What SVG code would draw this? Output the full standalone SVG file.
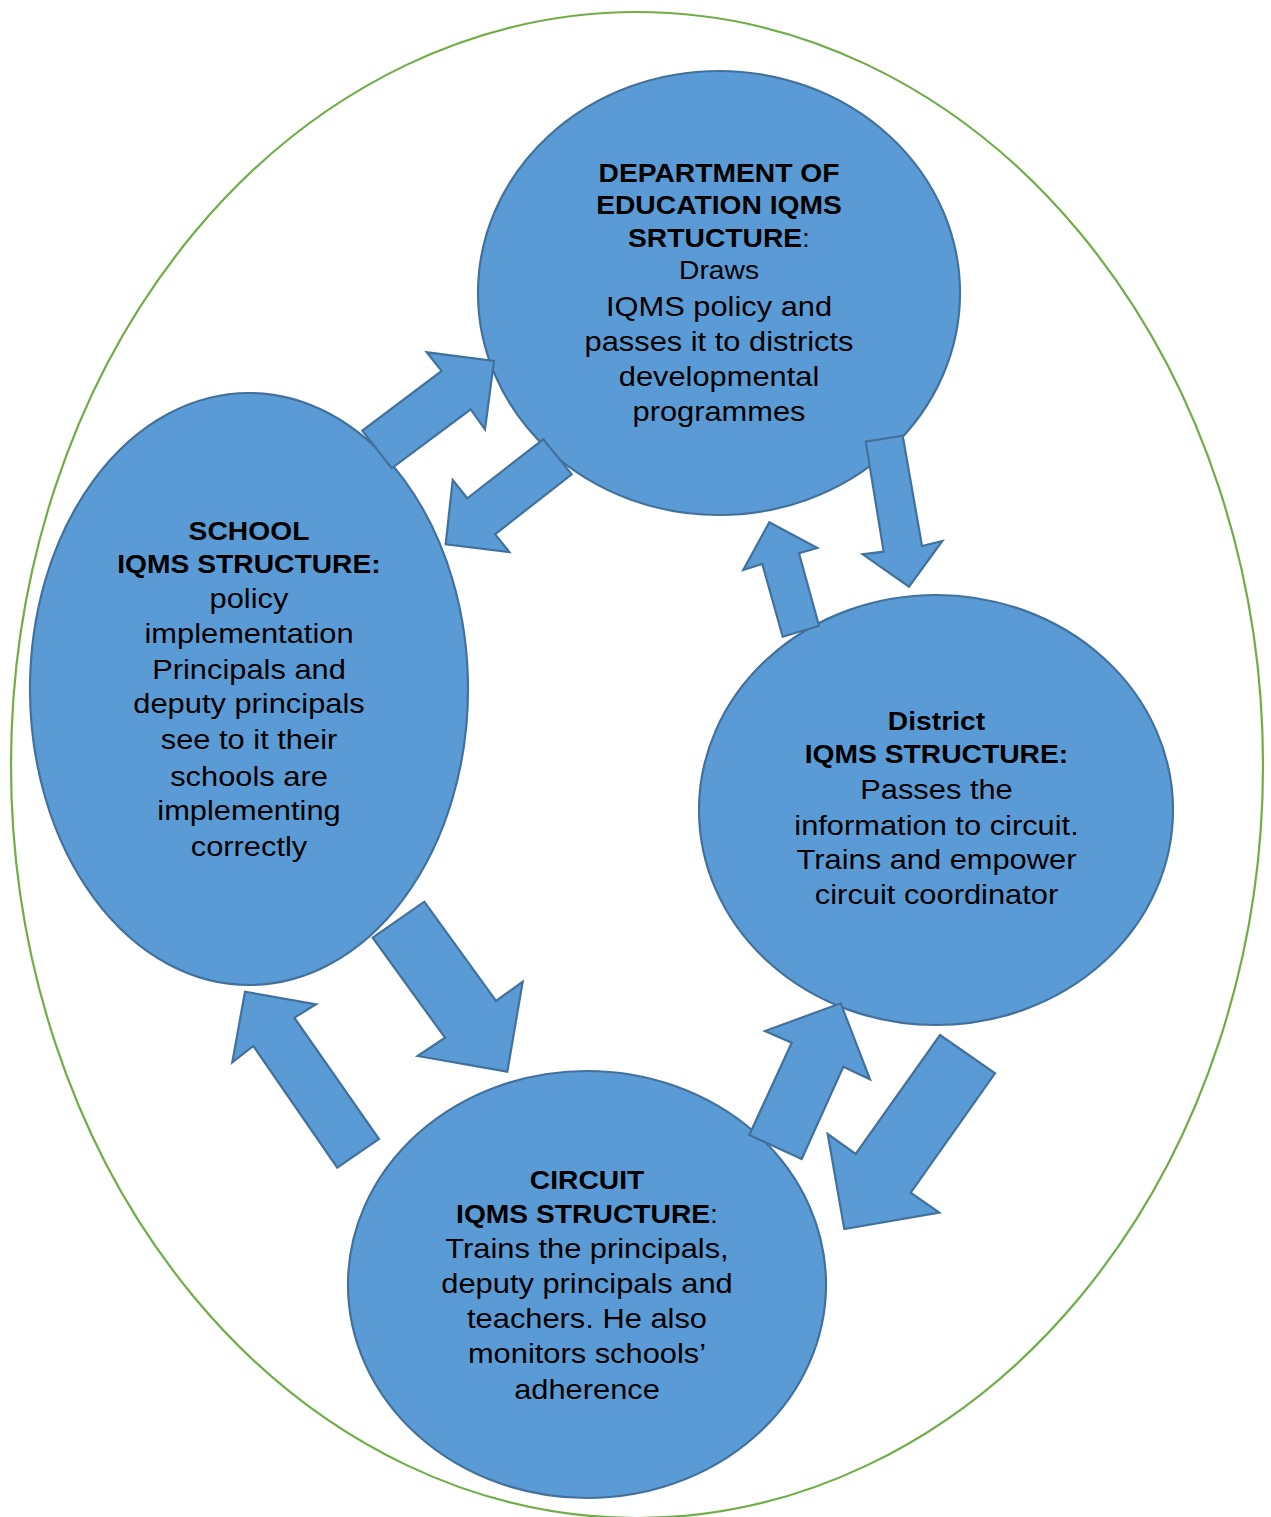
<svg xmlns="http://www.w3.org/2000/svg" width="1271" height="1517" viewBox="0 0 1271 1517">
<style>
.bg{fill:#ffffff}
.outer{fill:none;stroke:#70AD47;stroke-width:2.2}
.node{fill:#5B9BD5;stroke:#41719C;stroke-width:2.2}
.arrow{fill:#5B9BD5;stroke:#41719C;stroke-width:2.2;stroke-linejoin:miter}
text{font-family:"Liberation Sans",Arial,sans-serif;fill:#000000;text-anchor:middle}
.b{font-weight:bold;font-size:25px}
.r{font-size:27.3px}
.s{font-size:25px}
.n{font-weight:normal}
</style>
<rect class="bg" x="0" y="0" width="1271" height="1517"/>
<ellipse class="outer" cx="637" cy="765" rx="626" ry="753"/>

<g id="node-department">
<ellipse class="node" cx="719" cy="293" rx="241" ry="222"/>
<g transform="translate(719,0) scale(1.13,1)">
<text class="b" x="0" y="182">DEPARTMENT OF</text>
<text class="b" x="0" y="214">EDUCATION IQMS</text>
<text class="b" x="0" y="247.5">SRTUCTURE<tspan class="n">:</tspan></text>
<text class="s" x="0" y="279">Draws</text>
<text class="r" x="0" y="316.5">IQMS policy and</text>
<text class="r" x="0" y="351.5">passes it to districts</text>
<text class="r" x="0" y="386.5">developmental</text>
<text class="r" x="0" y="421">programmes</text>
</g>
</g>

<g id="node-school">
<ellipse class="node" cx="249" cy="689" rx="219" ry="296"/>
<g transform="translate(249,0) scale(1.13,1)">
<text class="b" x="0" y="540">SCHOOL</text>
<text class="b" x="0" y="573.3">IQMS STRUCTURE:</text>
<text class="r" x="0" y="607.7">policy</text>
<text class="r" x="0" y="642.7">implementation</text>
<text class="r" x="0" y="679">Principals and</text>
<text class="r" x="0" y="713.3">deputy principals</text>
<text class="r" x="0" y="749.3">see to it their</text>
<text class="r" x="0" y="785.7">schools are</text>
<text class="r" x="0" y="820">implementing</text>
<text class="r" x="0" y="855.7">correctly</text>
</g>
</g>

<g id="node-district">
<ellipse class="node" cx="936" cy="810" rx="237" ry="215"/>
<g transform="translate(936.5,0) scale(1.13,1)">
<text class="b" x="0" y="730">District</text>
<text class="b" x="0" y="763.3">IQMS STRUCTURE:</text>
<text class="r" x="0" y="799.3">Passes the</text>
<text class="r" x="0" y="835">information to circuit.</text>
<text class="r" x="0" y="869.3">Trains and empower</text>
<text class="r" x="0" y="904">circuit coordinator</text>
</g>
</g>

<g id="node-circuit">
<ellipse class="node" cx="587" cy="1284.5" rx="239" ry="213.5"/>
<g transform="translate(587,0) scale(1.13,1)">
<text class="b" x="0" y="1189.3">CIRCUIT</text>
<text class="b" x="0" y="1222.7">IQMS STRUCTURE<tspan class="n">:</tspan></text>
<text class="r" x="0" y="1258.3">Trains the principals,</text>
<text class="r" x="0" y="1292.7">deputy principals and</text>
<text class="r" x="0" y="1328.3">teachers. He also</text>
<text class="r" x="0" y="1363.3">monitors schools’</text>
<text class="r" x="0" y="1399.3">adherence</text>
</g>
</g>

<g id="connectors">
<polygon id="arrow-school-dept" class="arrow" points="362.3,430.7 441.7,371 426.7,352.3 494,361 485,429.3 470.7,409.3 391.7,468.3"/>
<polygon id="arrow-dept-school" class="arrow" points="543.3,439.3 571.7,474.3 495,534.3 509.3,552 445.7,544.3 452.7,480 467.3,498.3"/>
<polygon id="arrow-dept-district" class="arrow" points="865.7,441.7 902.7,435.7 922,546 942.3,541 909,586.7 862.7,554.3 883.7,551.7"/>
<polygon id="arrow-district-dept" class="arrow" points="782.7,636.7 819,625.7 799,553.3 817.3,548 769.3,522.3 743.3,570 762.3,564"/>
<polygon id="arrow-school-circuit" class="arrow" points="372.7,937.7 424.3,901.7 496,1001 522.7,981.7 507.3,1071.7 417.7,1056 445,1037.7"/>
<polygon id="arrow-circuit-school" class="arrow" points="337.3,1167.7 379,1139 294.3,1017.7 316,1004.3 245,991.7 232.3,1062.3 253.3,1046"/>
<polygon id="arrow-circuit-district" class="arrow" points="749.3,1135 801.7,1159 843.3,1066.7 870,1079.3 840.7,1003.3 765,1031 791.7,1042.7"/>
<polygon id="arrow-district-circuit" class="arrow" points="940,1035 995,1073.3 910.7,1192.7 939.3,1212.7 844.3,1229 827.7,1134 855.7,1154"/>
</g>
</svg>
